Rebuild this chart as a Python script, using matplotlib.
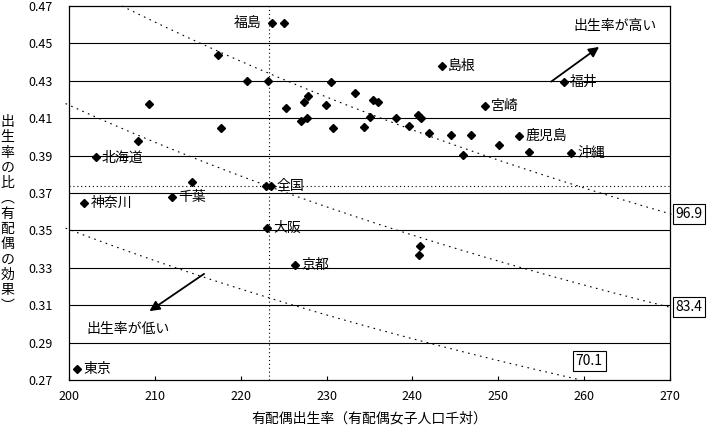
import numpy as np
import matplotlib.pyplot as plt

plt.rcParams['font.family'] = ['Noto Sans CJK JP', 'DejaVu Sans']
plt.rcParams['axes.linewidth'] = 0.9

# 都道府県ごとの値 (名前が空のものはラベルなし)
pref_names = [
    '福島', '', '', '', '', '', '', '', '', '北海道',
    '', '全国', '', '島根', '', '', '', '', '', '',
    '宮崎', '', '', '', '', '', '', '', '', '',
    '', '', '', '', '鹿児島', '', '', '福井', '', '沖縄',
    '神奈川', '千葉', '大阪', '京都', '東京', '', '',
]
marital_rate = [
    223.6, 225.0, 217.4, 220.7, 223.2, 209.3, 225.3, 217.7, 208.0, 203.1,
    214.3, 223.5, 223.0, 243.4, 230.5, 233.3, 227.8, 227.4, 229.9, 235.4,
    248.4, 236.0, 227.0, 227.7, 235.1, 238.1, 240.7, 241.0, 230.7, 234.4,
    239.6, 241.9, 244.5, 246.8, 252.4, 250.1, 245.9, 257.6, 253.6, 258.5,
    201.8, 212.0, 223.1, 226.3, 200.9, 240.9, 240.8,
]
ratio = [
    0.461, 0.461, 0.444, 0.430, 0.430, 0.4175, 0.4156, 0.405, 0.398, 0.389,
    0.376, 0.3735, 0.374, 0.438, 0.4294, 0.4236, 0.422, 0.4187, 0.4169, 0.420,
    0.4165, 0.4188, 0.4085, 0.410, 0.4105, 0.4103, 0.4117, 0.4101, 0.4046, 0.4053,
    0.406, 0.4019, 0.401, 0.401, 0.4005, 0.3958, 0.3903, 0.4292, 0.3918, 0.3912,
    0.3648, 0.3677, 0.3514, 0.3317, 0.2757, 0.3417, 0.3367,
]

national_x = 223.3
national_y = 0.3737
curve_levels = [96.9, 83.4, 70.1]

x_ticks = [200, 210, 220, 230, 240, 250, 260, 270]
y_ticks = [0.27, 0.29, 0.31, 0.33, 0.35, 0.37, 0.39, 0.41, 0.43, 0.45, 0.47]

fig = plt.figure(figsize=(7.08, 4.28), dpi=100)
ax = fig.add_axes([69 / 708, 1 - 380 / 428, 601 / 708, 374 / 428])

ax.set_xlim(200, 270)
ax.set_ylim(0.27, 0.47)

for yv in y_ticks[1:-1]:
    ax.axhline(yv, color='black', lw=0.8, zorder=1)

ax.axhline(national_y, color='black', lw=0.8, ls=(0, (1, 2.5)), zorder=1)
ax.axvline(national_x, color='black', lw=0.8, ls=(0, (1, 2.5)), zorder=1)

# 等出生率曲線 (比 × 有配偶出生率 = 一定)
for c in curve_levels:
    x0 = max(199.6, c / 0.47)
    x1 = min(270.2, c / 0.27)
    xs = np.linspace(x0, x1, 300)
    ax.plot(xs, c / xs, color='black', lw=0.8, ls=(0, (1.5, 4)),
            clip_on=False, zorder=2)

ax.plot(marital_rate, ratio, ls='none', marker='D', ms=4.3,
        color='black', zorder=4)

for name, xv, yv in zip(pref_names, marital_rate, ratio):
    if not name:
        continue
    if name == '福島':
        ax.annotate(name, (xv, yv), xytext=(-7, 0), textcoords='offset points',
                    ha='right', va='center', fontsize=10)
    else:
        ax.annotate(name, (xv, yv), xytext=(4.5, 0), textcoords='offset points',
                    ha='left', va='center', fontsize=10)

box = dict(boxstyle='square,pad=0.2', fc='white', ec='black', lw=0.8)
for c in curve_levels[:2]:
    ax.annotate(f'{c:.1f}', (270, c / 270), xytext=(4, 0), textcoords='offset points',
                ha='left', va='center', fontsize=10, bbox=box, annotation_clip=False)
ax.text(260.6, 0.2802, f'{curve_levels[2]:.1f}', ha='center', va='center',
        fontsize=10, bbox=box)

ax.annotate('', xy=(262.0, 0.449), xytext=(255.9, 0.4287),
            arrowprops=dict(arrowstyle='-|>', color='black', lw=1.3, mutation_scale=15))
ax.annotate('', xy=(209.1, 0.3060), xytext=(216.0, 0.3276),
            arrowprops=dict(arrowstyle='-|>', color='black', lw=1.3, mutation_scale=15))
ax.text(258.8, 0.4591, '出生率が高い', ha='left', va='center', fontsize=10)
ax.text(202.0, 0.2973, '出生率が低い', ha='left', va='center', fontsize=10)

ax.set_xticks(x_ticks)
ax.set_xticklabels([str(v) for v in x_ticks], fontsize=9)
ax.set_yticks(y_ticks)
ax.set_yticklabels([f'{v:.2f}' for v in y_ticks], fontsize=9)
ax.tick_params(axis='x', direction='in', length=3, width=0.8, pad=7)
ax.tick_params(axis='y', length=0, pad=12)

ax.set_xlabel('有配偶出生率（有配偶女子人口千対）', fontsize=10, labelpad=6)

# 縦書きの y 軸ラベル
ylabel_chars = list('出生率の比') + ['︵'] + list('有配偶の効果') + ['︶']
y_top = 122
for i, ch in enumerate(ylabel_chars):
    fig.text(7.5 / 708, 1 - (y_top + i * 15.3) / 428, ch, ha='center', va='center',
             fontsize=10)

fig.savefig('out.png', dpi=100)
